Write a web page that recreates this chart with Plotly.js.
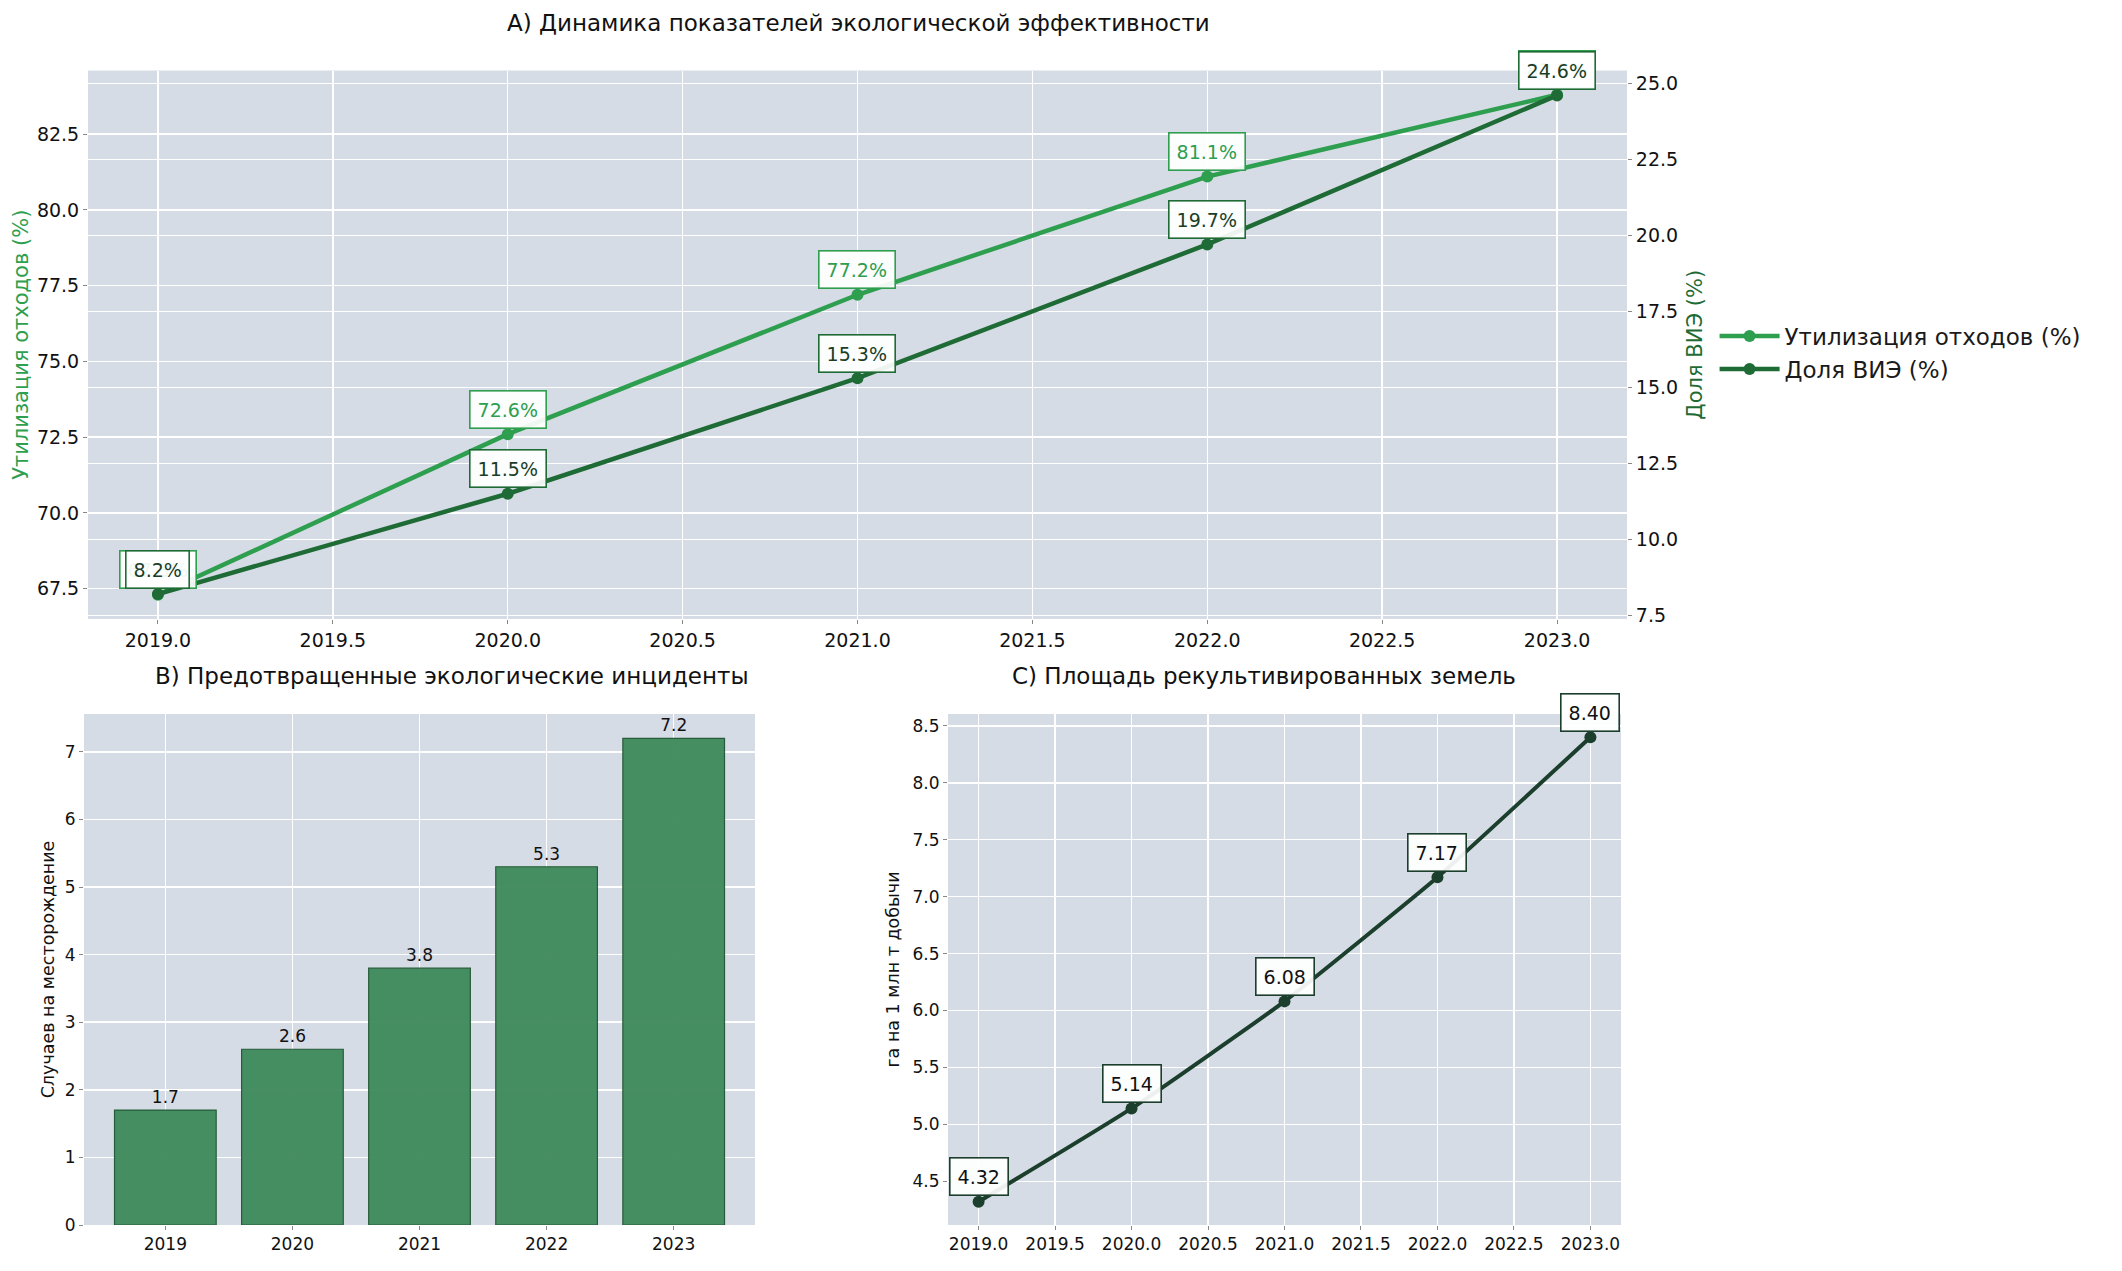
<!DOCTYPE html>
<html>
<head>
<meta charset="utf-8">
<script src="https://cdn.plot.ly/plotly-3.0.1.min.js"></script>
<style>
html,body{margin:0;padding:0;background:#fff;}
#chart{width:2122px;height:1271px;}
</style>
</head>
<body>
<div id="chart"></div>
<script>
// ---- data ----
const years = [2019, 2020, 2021, 2022, 2023];
const wasteUtil = [67.3, 72.6, 77.2, 81.1, 83.8];      // Утилизация отходов (%)
const renewShare = [8.2, 11.5, 15.3, 19.7, 24.6];      // Доля ВИЭ (%)
const incidentCats = ["2019", "2020", "2021", "2022", "2023"];
const incidents = [1.7, 2.6, 3.8, 5.3, 7.2];            // Случаев на месторождение
const reclaimed = [4.32, 5.14, 6.08, 7.17, 8.40];       // га на 1 млн т добычи

const titles = {
  a: "А) Динамика показателей экологической эффективности",
  b: "В) Предотвращенные экологические инциденты",
  c: "С) Площадь рекультивированных земель"
};

// ---- styles ----
const FONT = "DejaVu Sans, Noto Sans, sans-serif";
const BG = "#d6dce6";
const GRID = "#ffffff";
const GREEN = "#2e9e4f";
const DARK = "#1e6b35";
const CDARK = "#1b3f2c";
const BAR = "#3e8a5b";

const traces = [
  {
    x: years, y: wasteUtil, type: "scatter", mode: "lines+markers",
    name: "Утилизация отходов (%)", xaxis: "x", yaxis: "y",
    line: {color: GREEN, width: 4.5}, marker: {color: GREEN, size: 12}
  },
  {
    x: years, y: renewShare, type: "scatter", mode: "lines+markers",
    name: "Доля ВИЭ (%)", xaxis: "x", yaxis: "y2",
    line: {color: DARK, width: 4.5}, marker: {color: DARK, size: 12}
  },
  {
    x: incidentCats, y: incidents, type: "bar", xaxis: "x3", yaxis: "y3",
    showlegend: false, width: 0.8,
    marker: {color: BAR, opacity: 0.95, line: {color: "#1e5631", width: 1.2}},
    text: incidents.map(v => v.toFixed(1)), textposition: "outside",
    cliponaxis: false,
    textfont: {family: FONT, size: 17, color: "#111"}
  },
  {
    x: years, y: reclaimed, type: "scatter", mode: "lines+markers",
    xaxis: "x4", yaxis: "y4", showlegend: false,
    line: {color: CDARK, width: 4, shape: "spline", smoothing: 0.4},
    marker: {color: CDARK, size: 12}
  }
];

const boxStyle = {showarrow: false, yshift: 25, borderwidth: 1.6, borderpad: 7,
                  bgcolor: "rgba(255,255,255,0.92)"};
const annotations = [];
// Panel A labels: utilization first (underneath), VIE last (on top)
years.forEach((yr, i) => {
  annotations.push(Object.assign({}, boxStyle, {
    x: yr, y: wasteUtil[i], xref: "x", yref: "y", text: wasteUtil[i].toFixed(1) + "%",
    font: {family: FONT, size: 19, color: GREEN}, bordercolor: GREEN
  }));
});
years.forEach((yr, i) => {
  annotations.push(Object.assign({}, boxStyle, {
    x: yr, y: renewShare[i], xref: "x", yref: "y2", text: renewShare[i].toFixed(1) + "%",
    font: {family: FONT, size: 19, color: "#1a3d28"}, bordercolor: DARK
  }));
});
years.forEach((yr, i) => {
  annotations.push(Object.assign({}, boxStyle, {
    x: yr, y: reclaimed[i], xref: "x4", yref: "y4", text: reclaimed[i].toFixed(2),
    font: {family: FONT, size: 19, color: "#111"}, bordercolor: CDARK
  }));
});
// Titles
annotations.push(
  {text: titles.a, x: 0.4045, y: 0.982, xref: "paper", yref: "paper", showarrow: false,
   xanchor: "center", yanchor: "middle", font: {family: FONT, size: 23, color: "#111"}},
  {text: titles.b, x: 0.213, y: 0.468, xref: "paper", yref: "paper", showarrow: false,
   xanchor: "center", yanchor: "middle", font: {family: FONT, size: 23, color: "#111"}},
  {text: titles.c, x: 0.5957, y: 0.468, xref: "paper", yref: "paper", showarrow: false,
   xanchor: "center", yanchor: "middle", font: {family: FONT, size: 23, color: "#111"}}
);

const tickFont = {family: FONT, size: 19, color: "#111"};
const smallTick = {family: FONT, size: 17, color: "#111"};
const baseAxis = {
  showgrid: true, gridcolor: GRID, gridwidth: 1.5, zeroline: false,
  showline: false, ticks: "outside", ticklen: 4, tickcolor: "#888",
  tickfont: tickFont
};

const layout = {
  width: 2122, height: 1271,
  margin: {l: 0, r: 0, t: 0, b: 0},
  paper_bgcolor: "#ffffff",
  plot_bgcolor: BG,
  font: {family: FONT},
  showlegend: true,
  legend: {
    x: 0.808, y: 0.7525, xanchor: "left", yanchor: "top",
    font: {family: FONT, size: 23, color: "#1a1a1a"},
    bgcolor: "rgba(255,255,255,0)", itemwidth: 60, tracegroupgap: 4
  },
  xaxis: Object.assign({}, baseAxis, {
    domain: [0.04147, 0.76673], anchor: "y",
    range: [2018.8, 2023.2], tick0: 2019, dtick: 0.5, tickformat: ".1f"
  }),
  yaxis: Object.assign({}, baseAxis, {
    domain: [0.51298, 0.94453], anchor: "x",
    range: [66.5, 84.6], tick0: 67.5, dtick: 2.5, tickformat: ".1f",
    title: {text: "Утилизация отходов (%)", font: {family: FONT, size: 21, color: GREEN}, standoff: 2}
  }),
  yaxis2: Object.assign({}, baseAxis, {
    overlaying: "y", side: "right", anchor: "x",
    range: [7.38, 25.42], tick0: 7.5, dtick: 2.5, tickformat: ".1f",
    title: {text: "Доля ВИЭ (%)", font: {family: FONT, size: 21, color: DARK}, standoff: 10}
  }),
  xaxis3: Object.assign({}, baseAxis, {
    domain: [0.03959, 0.3558], anchor: "y3", type: "category",
    range: [-0.64, 4.64], tickfont: smallTick
  }),
  yaxis3: Object.assign({}, baseAxis, {
    domain: [0.03619, 0.43824], anchor: "x3",
    range: [0, 7.56], dtick: 1, tickfont: smallTick,
    title: {text: "Случаев на месторождение", font: {family: FONT, size: 17.5, color: "#111"}, standoff: 5}
  }),
  xaxis4: Object.assign({}, baseAxis, {
    domain: [0.44675, 0.7639], anchor: "y4",
    range: [2018.8, 2023.2], tick0: 2019, dtick: 0.5, tickformat: ".1f",
    tickfont: smallTick
  }),
  yaxis4: Object.assign({}, baseAxis, {
    domain: [0.03619, 0.43824], anchor: "x4",
    range: [4.116, 8.604], tick0: 4.5, dtick: 0.5, tickformat: ".1f",
    tickfont: smallTick,
    title: {text: "га на 1 млн т добычи", font: {family: FONT, size: 17.5, color: "#111"}, standoff: 8}
  }),
  annotations: annotations
};

Plotly.newPlot("chart", traces, layout, {displayModeBar: false, staticPlot: true});
</script>
</body>
</html>
